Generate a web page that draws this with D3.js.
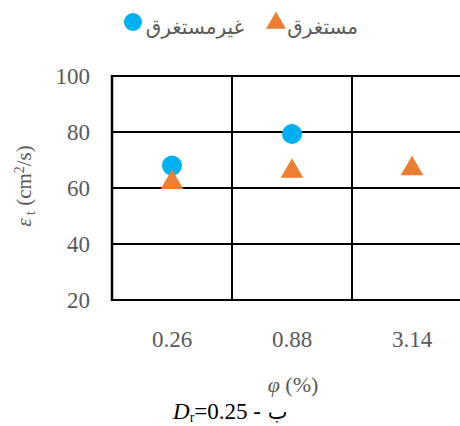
<!DOCTYPE html>
<html><head><meta charset="utf-8">
<script src="https://cdn.jsdelivr.net/npm/d3@7"></script>
<style>body{margin:0;background:#fff}svg{display:block}</style>
</head><body>
<svg id="c" width="460" height="426"></svg>
<script>
const categories = ["0.26", "0.88", "3.14"];
const seriesNames = ["غیرمستغرق", "مستغرق"];
const nonSubmerged = [68, 79.3, null];
const submerged = [62.3, 66.3, 67.2];
const yTicks = [20, 40, 60, 80, 100];

const SERIF = "Liberation Serif";
const svg = d3.select("#c");
const gray = "#595959";
const x = d3.scaleBand().domain(categories).range([112, 472]);
const y = d3.scaleLinear().domain([20, 100]).range([300, 76]);

svg.append("g").selectAll("line").data(yTicks).join("line")
  .attr("x1", 112).attr("x2", 472).attr("y1", d => y(d)).attr("y2", d => y(d))
  .attr("stroke", "#000").attr("stroke-width", 2);
const bounds = categories.map(c => x(c)).concat([x.range()[1]]);
svg.append("g").selectAll("line").data(bounds).join("line")
  .attr("x1", d => d).attr("x2", d => d).attr("y1", y(100) - 1).attr("y2", y(20) + 1)
  .attr("stroke", "#000").attr("stroke-width", (d, i) => i === 0 ? 2.5 : 2);

svg.append("g").selectAll("text").data(yTicks).join("text")
  .attr("font-family", SERIF)
  .attr("x", 90).attr("y", d => y(d) + 8).attr("text-anchor", "end")
  .attr("font-size", 23).attr("fill", gray)
  .text(d => d);
svg.append("g").selectAll("text").data(categories).join("text")
  .attr("font-family", SERIF)
  .attr("x", d => x(d) + x.bandwidth() / 2).attr("y", 347).attr("text-anchor", "middle")
  .attr("font-size", 23).attr("fill", gray)
  .text(d => d);

const circ = svg.append("g");
categories.forEach((c, i) => {
  if (nonSubmerged[i] == null) return;
  circ.append("circle").attr("cx", x(c) + x.bandwidth() / 2).attr("cy", y(nonSubmerged[i]))
    .attr("r", 10).attr("fill", "#00B0F0");
});
const tri = d3.symbol().type(d3.symbolTriangle).size(220);
const trig = svg.append("g");
categories.forEach((c, i) => {
  if (submerged[i] == null) return;
  trig.append("path").attr("d", tri)
    .attr("transform", `translate(${x(c) + x.bandwidth() / 2},${y(submerged[i]) + 1})`)
    .attr("fill", "#ED7D31");
});

const yt = svg.append("text").attr("font-family", SERIF).attr("transform", "translate(31,186) rotate(-90)")
  .attr("text-anchor", "middle").attr("font-size", 21).attr("fill", gray);
yt.append("tspan").attr("font-style", "italic").text("ε");
yt.append("tspan").attr("font-size", 14).attr("dy", 4).text(" t");
yt.append("tspan").attr("dy", -4).text(" (cm");
yt.append("tspan").attr("font-size", 14).attr("dy", -7).text("2");
yt.append("tspan").attr("dy", 7).text("/s)");

const xt = svg.append("text").attr("font-family", SERIF).attr("x", 293).attr("y", 392).attr("text-anchor", "middle")
  .attr("font-size", 22).attr("fill", gray);
xt.append("tspan").attr("font-style", "italic").text("φ");
xt.append("tspan").text(" (%)");

const cap = svg.append("text").attr("font-family", SERIF).attr("x", 173).attr("y", 419)
  .attr("font-size", 23).attr("fill", "#000");
cap.append("tspan").attr("font-style", "italic").text("D");
cap.append("tspan").attr("font-size", 14).attr("dy", 3).text("r");
cap.append("tspan").attr("dy", -3).text("=0.25 -");
cap.append("tspan").attr("font-family", "DejaVu Sans").attr("font-size", 21).text(" ب");

const lg = svg.append("g");
lg.append("circle").attr("cx", 133).attr("cy", 22).attr("r", 9).attr("fill", "#00B0F0");
lg.append("text").attr("x", 244).attr("y", 34).attr("text-anchor", "end")
  .attr("font-family", "DejaVu Sans").attr("font-size", 20).attr("fill", gray).text(seriesNames[0]);
lg.append("path").attr("d", d3.symbol().type(d3.symbolTriangle).size(170))
  .attr("transform", "translate(276,23)").attr("fill", "#ED7D31");
lg.append("text").attr("x", 358).attr("y", 34).attr("text-anchor", "end")
  .attr("font-family", "DejaVu Sans").attr("font-size", 20).attr("fill", gray).text(seriesNames[1]);
</script>
</body></html>
